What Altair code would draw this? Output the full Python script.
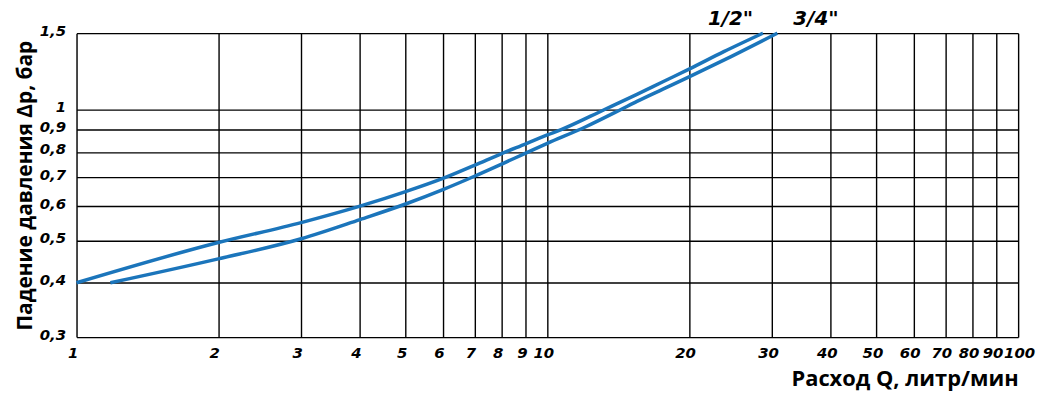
import altair as alt
import pandas as pd

# Flow values (l/min) and pressure drop (bar) for each curve
q_half = [1, 2, 3, 4, 5, 6, 7, 8, 9, 10, 10.7, 13.2, 15.5, 17.6, 20, 23.7, 28.7]
dp_half = [0.4, 0.495, 0.55, 0.6, 0.648, 0.695, 0.745, 0.793, 0.835, 0.875, 0.9, 1.0, 1.085, 1.16, 1.24, 1.36, 1.5]

q_three = [1.18, 2, 3, 4, 5, 6, 7, 8, 9, 10, 12.1, 14.3, 15.5, 17.6, 20, 23.7, 30.8]
dp_three = [0.4, 0.454, 0.505, 0.559, 0.607, 0.655, 0.703, 0.75, 0.795, 0.837, 0.915, 1.0, 1.045, 1.115, 1.19, 1.30, 1.5]

x_ticks = [1, 2, 3, 4, 5, 6, 7, 8, 9, 10, 20, 30, 40, 50, 60, 70, 80, 90, 100]
y_ticks = [0.3, 0.4, 0.5, 0.6, 0.7, 0.8, 0.9, 1, 1.5]

label_text = ['1/2"', '3/4"']
label_q = [24.5, 37.2]
label_dp = [1.5, 1.5]

rows = []
for q, d in zip(q_half, dp_half):
    rows.append({"Q": q, "dp": d, "series": "1/2"})
for q, d in zip(q_three, dp_three):
    rows.append({"Q": q, "dp": d, "series": "3/4"})
df = pd.DataFrame(rows)
df["order"] = range(len(df))

labels_df = pd.DataFrame({"Q": label_q, "dp": label_dp, "text": label_text})

x_scale = alt.Scale(type="log", domain=[1, 100], nice=False)
y_scale = alt.Scale(type="log", domain=[0.3, 1.5], nice=False)

tick_font = "DejaVu Sans"

x_axis = alt.Axis(
    values=x_ticks, grid=True, gridColor="black", gridWidth=1.4, gridOpacity=1,
    ticks=False, domain=False, labelFont=tick_font, labelFontWeight="bold",
    labelFontStyle="italic", labelFontSize=15, labelColor="black", labelPadding=9,
    labelFlush=False, labelOverlap=False, labelExpr="toString(datum.value)",
    labelOffset={"condition": {"test": "datum.value > 95", "value": 1}, "value": -4},
    title="Расход Q, литр/мин", titleFont="Open Sans", titleFontWeight="bold",
    titleFontSize=22, titleColor="black", titleAnchor="end", titlePadding=8,
)
y_axis = alt.Axis(
    values=y_ticks, grid=True, gridColor="black", gridWidth=1.4, gridOpacity=1,
    ticks=False, domain=False, labelFont=tick_font, labelFontWeight="bold",
    labelFontStyle="italic", labelFontSize=15, labelColor="black", labelPadding=11,
    labelFlush=False, labelOverlap=False, labelOffset=-3,
    labelExpr="replace(toString(datum.value), '.', ',')",
    title="Падение давления Δр, бар", titleFont="Open Sans", titleFontWeight="bold",
    titleFontSize=21, titleColor="black", titlePadding=4,
)

lines = alt.Chart(df).mark_line(strokeWidth=3.5, color="#1b75bb", interpolate="monotone").encode(
    x=alt.X("Q:Q", scale=x_scale, axis=x_axis),
    y=alt.Y("dp:Q", scale=y_scale, axis=y_axis),
    detail="series:N",
    order="order:Q",
)

texts = alt.Chart(labels_df).mark_text(
    font=tick_font, fontWeight="bold", fontStyle="italic", fontSize=20,
    color="black", dy=-14,
).encode(
    x=alt.X("Q:Q", scale=x_scale),
    y=alt.Y("dp:Q", scale=y_scale),
    text="text:N",
)

chart = alt.layer(lines, texts).properties(
    width=948, height=306,
    autosize=alt.AutoSizeParams(type="none"),
    padding={"left": 69, "top": 24, "right": 20, "bottom": 60},
).configure_view(stroke="black", strokeWidth=3.5).configure(background="white")

chart.save("out.html", embed_options={"renderer": "svg", "actions": False})
